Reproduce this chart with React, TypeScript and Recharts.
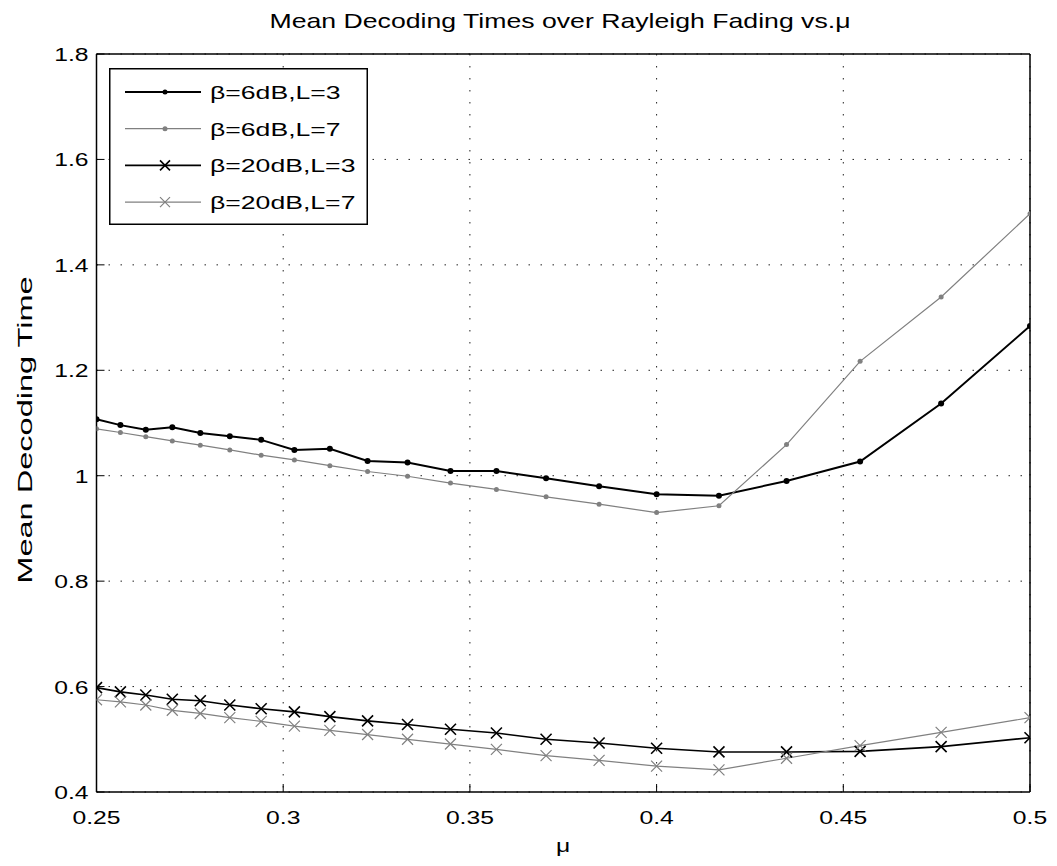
import React from "react";
import { CartesianGrid, Legend, Line, LineChart, XAxis, YAxis } from "recharts";

// mu values (1/4 .. 1/2)
const mu = [
  0.25, 0.2564, 0.2632, 0.2703, 0.2778, 0.2857, 0.2941, 0.303, 0.3125, 0.3226, 0.3333,
  0.3448, 0.3571, 0.3704, 0.3846, 0.4, 0.4167, 0.4348, 0.4545, 0.4762, 0.5,
];
const b6L3 = [
  1.107, 1.096, 1.087, 1.092, 1.081, 1.075, 1.068, 1.049, 1.051, 1.028, 1.025,
  1.009, 1.009, 0.995, 0.98, 0.965, 0.962, 0.99, 1.027, 1.137, 1.284,
];
const b6L7 = [
  1.089, 1.082, 1.074, 1.066, 1.058, 1.049, 1.039, 1.03, 1.019, 1.008, 0.999,
  0.986, 0.974, 0.96, 0.946, 0.93, 0.943, 1.059, 1.217, 1.339, 1.497,
];
const b20L3 = [
  0.598, 0.59, 0.584, 0.576, 0.573, 0.565, 0.558, 0.552, 0.543, 0.535, 0.528,
  0.519, 0.512, 0.5, 0.493, 0.483, 0.476, 0.476, 0.477, 0.486, 0.503,
];
const b20L7 = [
  0.575, 0.571, 0.565, 0.555, 0.549, 0.541, 0.534, 0.525, 0.517, 0.509, 0.5,
  0.491, 0.481, 0.469, 0.46, 0.449, 0.442, 0.464, 0.488, 0.513, 0.541,
];

const xTicks = [0.25, 0.3, 0.35, 0.4, 0.45, 0.5];
const yTicks = [0.4, 0.6, 0.8, 1, 1.2, 1.4, 1.6, 1.8];

const seriesNames = ["β=6dB,L=3", "β=6dB,L=7", "β=20dB,L=3", "β=20dB,L=7"];

const data = mu.map((m, i) => ({
  mu: m,
  s1: b6L3[i],
  s2: b6L7[i],
  s3: b20L3[i],
  s4: b20L7[i],
}));

const FONT = '"Liberation Sans", Arial, Helvetica, sans-serif';
const GRAY = "#808080";
const W = 1041;
const H = 850;

const styles = [
  { color: "#000", width: 2, marker: "dot", r: 3 },
  { color: GRAY, width: 1.2, marker: "dot", r: 2.5 },
  { color: "#000", width: 1.6, marker: "x", r: 5.5 },
  { color: GRAY, width: 1.2, marker: "x", r: 5.5 },
];

function marker(kind: string, cx: number, cy: number, color: string, r: number, w: number, key?: any) {
  if (kind === "dot") {
    return <circle key={key} cx={cx} cy={cy} r={r} fill={color} stroke="none" />;
  }
  return (
    <path
      key={key}
      d={`M${cx - r},${cy - r}L${cx + r},${cy + r}M${cx - r},${cy + r}L${cx + r},${cy - r}`}
      stroke={color}
      strokeWidth={w}
      fill="none"
    />
  );
}

const makeDot = (idx: number) => (props: any) => {
  const { cx, cy, index } = props;
  const s = styles[idx];
  if (cx == null || cy == null) return <g key={index} />;
  return marker(s.marker, cx, cy, s.color, s.r, s.marker === "x" ? s.width : 0, index);
};

const XTick = (props: any) => {
  const { x, y, payload } = props;
  return (
    <text
      transform={`translate(${x},${y + 32}) scale(1.3,1)`}
      textAnchor="middle"
      fontFamily={FONT}
      fontSize={19}
      fill="#000"
    >
      {payload.value}
    </text>
  );
};

const YTick = (props: any) => {
  const { x, y, payload } = props;
  return (
    <text
      transform={`translate(${x - 8},${y + 7}) scale(1.3,1)`}
      textAnchor="end"
      fontFamily={FONT}
      fontSize={19}
      fill="#000"
    >
      {payload.value}
    </text>
  );
};

const LegendBox = () => (
  <svg width={259} height={157} style={{ display: "block" }}>
    <rect x={0.75} y={0.75} width={257.5} height={155.5} fill="#fff" stroke="#000" strokeWidth={1.5} />
    {seriesNames.map((name, i) => {
      const s = styles[i];
      const cy = 24 + i * 36.7;
      return (
        <g key={name}>
          <line x1={16} x2={92} y1={cy} y2={cy} stroke={s.color} strokeWidth={s.width} />
          {marker(s.marker, 56, cy, s.color, s.marker === "x" ? 5 : 2.5, s.width)}
          <text
            transform={`translate(101,${cy + 7}) scale(1.4,1)`}
            fontFamily={FONT}
            fontSize={19}
            fill="#000"
          >
            {name}
          </text>
        </g>
      );
    })}
  </svg>
);

export default function App() {
  return (
    <div style={{ position: "relative", width: W, height: H }}>
      <LineChart
        width={W}
        height={H}
        data={data}
        margin={{ top: 45, right: 18, left: 28.5, bottom: 26 }}
      >
        <CartesianGrid stroke="#222" strokeDasharray="1.5 10.5" strokeWidth={1} />
        <XAxis
          dataKey="mu"
          type="number"
          domain={[0.25, 0.5]}
          ticks={xTicks}
          allowDataOverflow
          tickSize={-8}
          tickMargin={8}
          height={40}
          axisLine={{ stroke: "#000", strokeWidth: 1.5 }}
          tickLine={{ stroke: "#000" }}
          tick={<XTick />}
        />
        <XAxis
          xAxisId="top"
          orientation="top"
          dataKey="mu"
          type="number"
          domain={[0.25, 0.5]}
          ticks={xTicks}
          allowDataOverflow
          tickSize={-8}
          height={1}
          axisLine={{ stroke: "#000", strokeWidth: 1.5 }}
          tickLine={{ stroke: "#000" }}
          tick={false}
        />
        <YAxis
          type="number"
          domain={[0.4, 1.8]}
          ticks={yTicks}
          allowDataOverflow
          tickSize={-8}
          tickMargin={8}
          width={60}
          axisLine={{ stroke: "#000", strokeWidth: 1.5 }}
          tickLine={{ stroke: "#000" }}
          tick={<YTick />}
        />
        <YAxis
          yAxisId="right"
          orientation="right"
          type="number"
          domain={[0.4, 1.8]}
          ticks={yTicks}
          allowDataOverflow
          tickSize={-8}
          width={1}
          axisLine={{ stroke: "#000", strokeWidth: 1.5 }}
          tickLine={{ stroke: "#000" }}
          tick={false}
        />
        <Legend
          layout="vertical"
          align="center"
          verticalAlign="middle"
          content={() => <LegendBox />}
          wrapperStyle={{ left: 101.3, top: 59.7, width: 259, height: 157, bottom: "auto", right: "auto" }}
        />
        {(["s1", "s2", "s3", "s4"] as const).map((k, i) => (
          <Line
            key={k}
            dataKey={k}
            name={seriesNames[i]}
            type="linear"
            stroke={styles[i].color}
            strokeWidth={styles[i].width}
            dot={makeDot(i)}
            activeDot={false}
            isAnimationActive={false}
          />
        ))}
      </LineChart>
      <svg
        width={W}
        height={H}
        style={{ position: "absolute", left: 0, top: 0, pointerEvents: "none" }}
      >
        <text
          transform="translate(552,20.3) scale(1.3,1)"
          textAnchor="middle"
          fontFamily={FONT}
          fontSize={20.5}
          fill="#000"
        >
          Mean Decoding Times over Rayleigh Fading vs.μ
        </text>
        <text
          transform="translate(555,844) scale(1.3,1)"
          textAnchor="middle"
          fontFamily={FONT}
          fontSize={19}
          fill="#000"
        >
          μ
        </text>
        <text
          transform="translate(24,422) rotate(-90) scale(1.55,1)"
          textAnchor="middle"
          fontFamily={FONT}
          fontSize={21}
          fill="#000"
        >
          Mean Decoding Time
        </text>
      </svg>
    </div>
  );
}
